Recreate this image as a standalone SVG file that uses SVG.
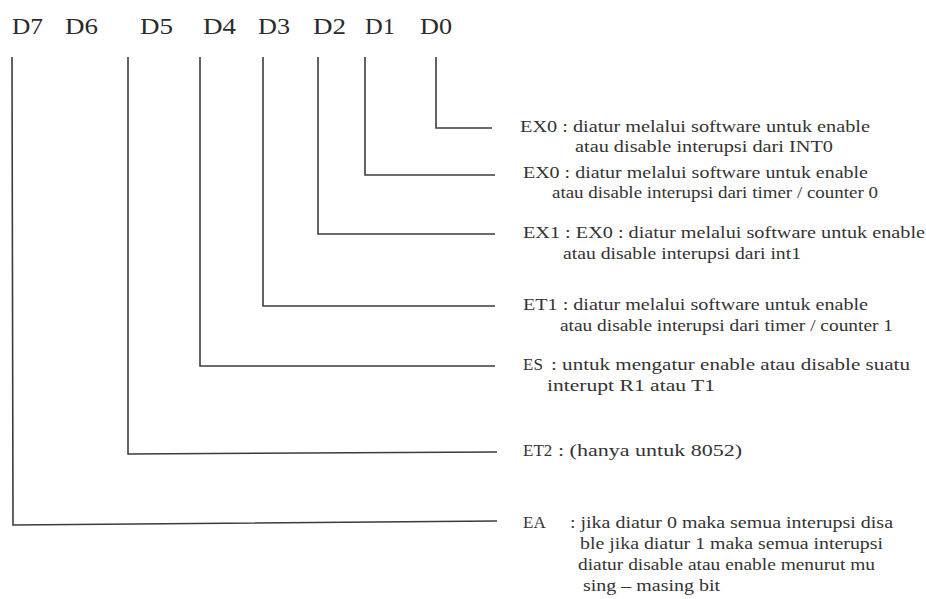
<svg xmlns="http://www.w3.org/2000/svg" width="926" height="599" viewBox="0 0 926 599">
<style>
.bg{fill:#ffffff}
.hd{font-family:"Liberation Serif","Times New Roman",serif;font-size:24px;fill:#2b2b2b}
.tx{font-family:"Liberation Serif","Times New Roman",serif;font-size:17px;fill:#333333}
.ln{fill:none;stroke:#3c3c3c;stroke-width:1.6;stroke-linejoin:miter}
</style>
<rect class="bg" x="0" y="0" width="926" height="599"/>
<g id="header">
<text class="hd" x="12" y="34" textLength="31" lengthAdjust="spacingAndGlyphs">D7</text>
<text class="hd" x="65" y="34" textLength="33" lengthAdjust="spacingAndGlyphs">D6</text>
<text class="hd" x="140" y="34" textLength="33" lengthAdjust="spacingAndGlyphs">D5</text>
<text class="hd" x="203" y="34" textLength="33" lengthAdjust="spacingAndGlyphs">D4</text>
<text class="hd" x="258" y="34" textLength="32" lengthAdjust="spacingAndGlyphs">D3</text>
<text class="hd" x="313" y="34" textLength="33" lengthAdjust="spacingAndGlyphs">D2</text>
<text class="hd" x="365" y="34" textLength="30" lengthAdjust="spacingAndGlyphs">D1</text>
<text class="hd" x="420" y="34" textLength="32" lengthAdjust="spacingAndGlyphs">D0</text>
</g>
<g id="connectors">
<path class="ln" d="M436 57 V128 H492"/>
<path class="ln" d="M365 57 V175 H495"/>
<path class="ln" d="M318 57 V234 H495"/>
<path class="ln" d="M263 57 V306 H495"/>
<path class="ln" d="M200 57 V366 H495"/>
<path class="ln" d="M128 57 V454 L497 452"/>
<path class="ln" d="M12 57 L13 525 L497 521"/>
</g>
<g id="ex0-d0">
<text class="tx" x="520" y="132" textLength="350" lengthAdjust="spacingAndGlyphs">EX0 : diatur melalui software untuk enable</text>
<text class="tx" x="575" y="152" textLength="258" lengthAdjust="spacingAndGlyphs">atau disable interupsi dari INT0</text>
</g>
<g id="ex0-d1">
<text class="tx" x="523" y="178" textLength="345" lengthAdjust="spacingAndGlyphs">EX0 : diatur melalui software untuk enable</text>
<text class="tx" x="552" y="198" textLength="326" lengthAdjust="spacingAndGlyphs">atau disable interupsi dari timer / counter 0</text>
</g>
<g id="ex1-d2">
<text class="tx" x="523" y="238" textLength="402" lengthAdjust="spacingAndGlyphs">EX1 : EX0 : diatur melalui software untuk enable</text>
<text class="tx" x="563" y="259" textLength="238" lengthAdjust="spacingAndGlyphs">atau disable interupsi dari int1</text>
</g>
<g id="et1-d3">
<text class="tx" x="523" y="310" textLength="345" lengthAdjust="spacingAndGlyphs">ET1 : diatur melalui software untuk enable</text>
<text class="tx" x="560" y="331" textLength="333" lengthAdjust="spacingAndGlyphs">atau disable interupsi dari timer / counter 1</text>
</g>
<g id="es-d4">
<text class="tx" x="523" y="370">ES</text>
<text class="tx" x="551" y="370" textLength="359" lengthAdjust="spacingAndGlyphs">: untuk mengatur enable atau disable suatu</text>
<text class="tx" x="547" y="391" textLength="168" lengthAdjust="spacingAndGlyphs">interupt R1 atau T1</text>
</g>
<g id="et2-d5">
<text class="tx" x="523" y="456">ET2</text>
<text class="tx" x="558" y="456" textLength="184" lengthAdjust="spacingAndGlyphs">: (hanya untuk 8052)</text>
</g>
<g id="ea-d7">
<text class="tx" x="523" y="528">EA</text>
<text class="tx" x="570" y="528" textLength="323" lengthAdjust="spacingAndGlyphs">: jika diatur 0 maka semua interupsi disa</text>
<text class="tx" x="580" y="549" textLength="303" lengthAdjust="spacingAndGlyphs">ble jika diatur 1 maka semua interupsi</text>
<text class="tx" x="578" y="570" textLength="297" lengthAdjust="spacingAndGlyphs">diatur disable atau enable menurut mu</text>
<text class="tx" x="583" y="591" textLength="137" lengthAdjust="spacingAndGlyphs">sing – masing bit</text>
</g>
</svg>
